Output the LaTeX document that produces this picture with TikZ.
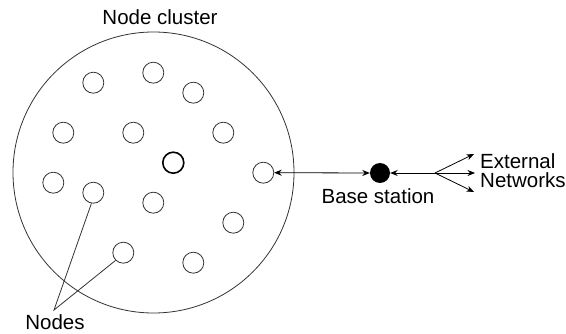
\documentclass[tikz,border=0pt]{standalone}
\usepackage{fontspec}
\setmainfont{Liberation Sans}
\usetikzlibrary{arrows.meta}
\begin{document}
\begin{tikzpicture}[x=1pt,y=-1pt,
  sn/.style={draw,circle,minimum size=21pt,inner sep=0pt,line width=0.8pt,draw=black!80},
  bs/.style={fill=black,circle,minimum size=20pt,inner sep=0pt},
  lbl/.style={font=\fontsize{20.5}{20.5}\selectfont,inner sep=0pt,anchor=base},
  arr/.style={line width=0.8pt,-{Stealth[length=7.5pt,width=6pt]}},
  darr/.style={line width=0.8pt,{Stealth[length=7.5pt,width=6pt]}-{Stealth[length=7.5pt,width=6pt]}}]
\useasboundingbox (0,0) rectangle (566,334);
\node[draw,circle,minimum size=281pt,inner sep=0pt,line width=0.8pt,draw=black!80] (cl) at (153.5,172.5) {};
\node[sn] (n1) at (93.3,82.7) {};
\node[sn] (n2) at (153.3,72.7) {};
\node[sn] (n3) at (193.3,92.7) {};
\node[sn] (n4) at (63.3,132.7) {};
\node[sn] (n5) at (133.3,132.7) {};
\node[sn] (n6) at (223.3,132.7) {};
\node[sn,line width=1.6pt,draw=black] (n7) at (173.3,162.7) {};
\node[sn] (n8) at (263.3,172.7) {};
\node[sn] (n9) at (53.3,182.7) {};
\node[sn] (n10) at (93.3,192.7) {};
\node[sn] (n11) at (153.3,202.7) {};
\node[sn] (n12) at (233.3,222.7) {};
\node[sn] (n13) at (123.3,252.7) {};
\node[sn] (n14) at (193.3,262.7) {};
\node[bs] (base) at (380,173) {};
\node[lbl] (tcl) at (160,25) {Node cluster};
\node[lbl] (tnodes) at (55,330) {Nodes};
\node[lbl] (tbase) at (378,204) {Base station};
\node[lbl,anchor=base west] (text) at (480,169) {External};
\node[lbl,anchor=base west] (tnet) at (480,188) {Networks};
\coordinate (apex) at (54,310);
\coordinate (br) at (435,173);
\coordinate (e1) at (474,154);
\coordinate (e2) at (475,173);
\coordinate (e3) at (474,192);
\draw[line width=0.8pt,draw=black!80] (n10.-100) -- (apex) -- (n13.-135);
\draw[darr] (n8.east) -- (base.west);
\draw[arr] (br) -- (base.east);
\draw[arr] (br) -- (e1);
\draw[arr] (br) -- (e2);
\draw[arr] (br) -- (e3);
\end{tikzpicture}
\end{document}
